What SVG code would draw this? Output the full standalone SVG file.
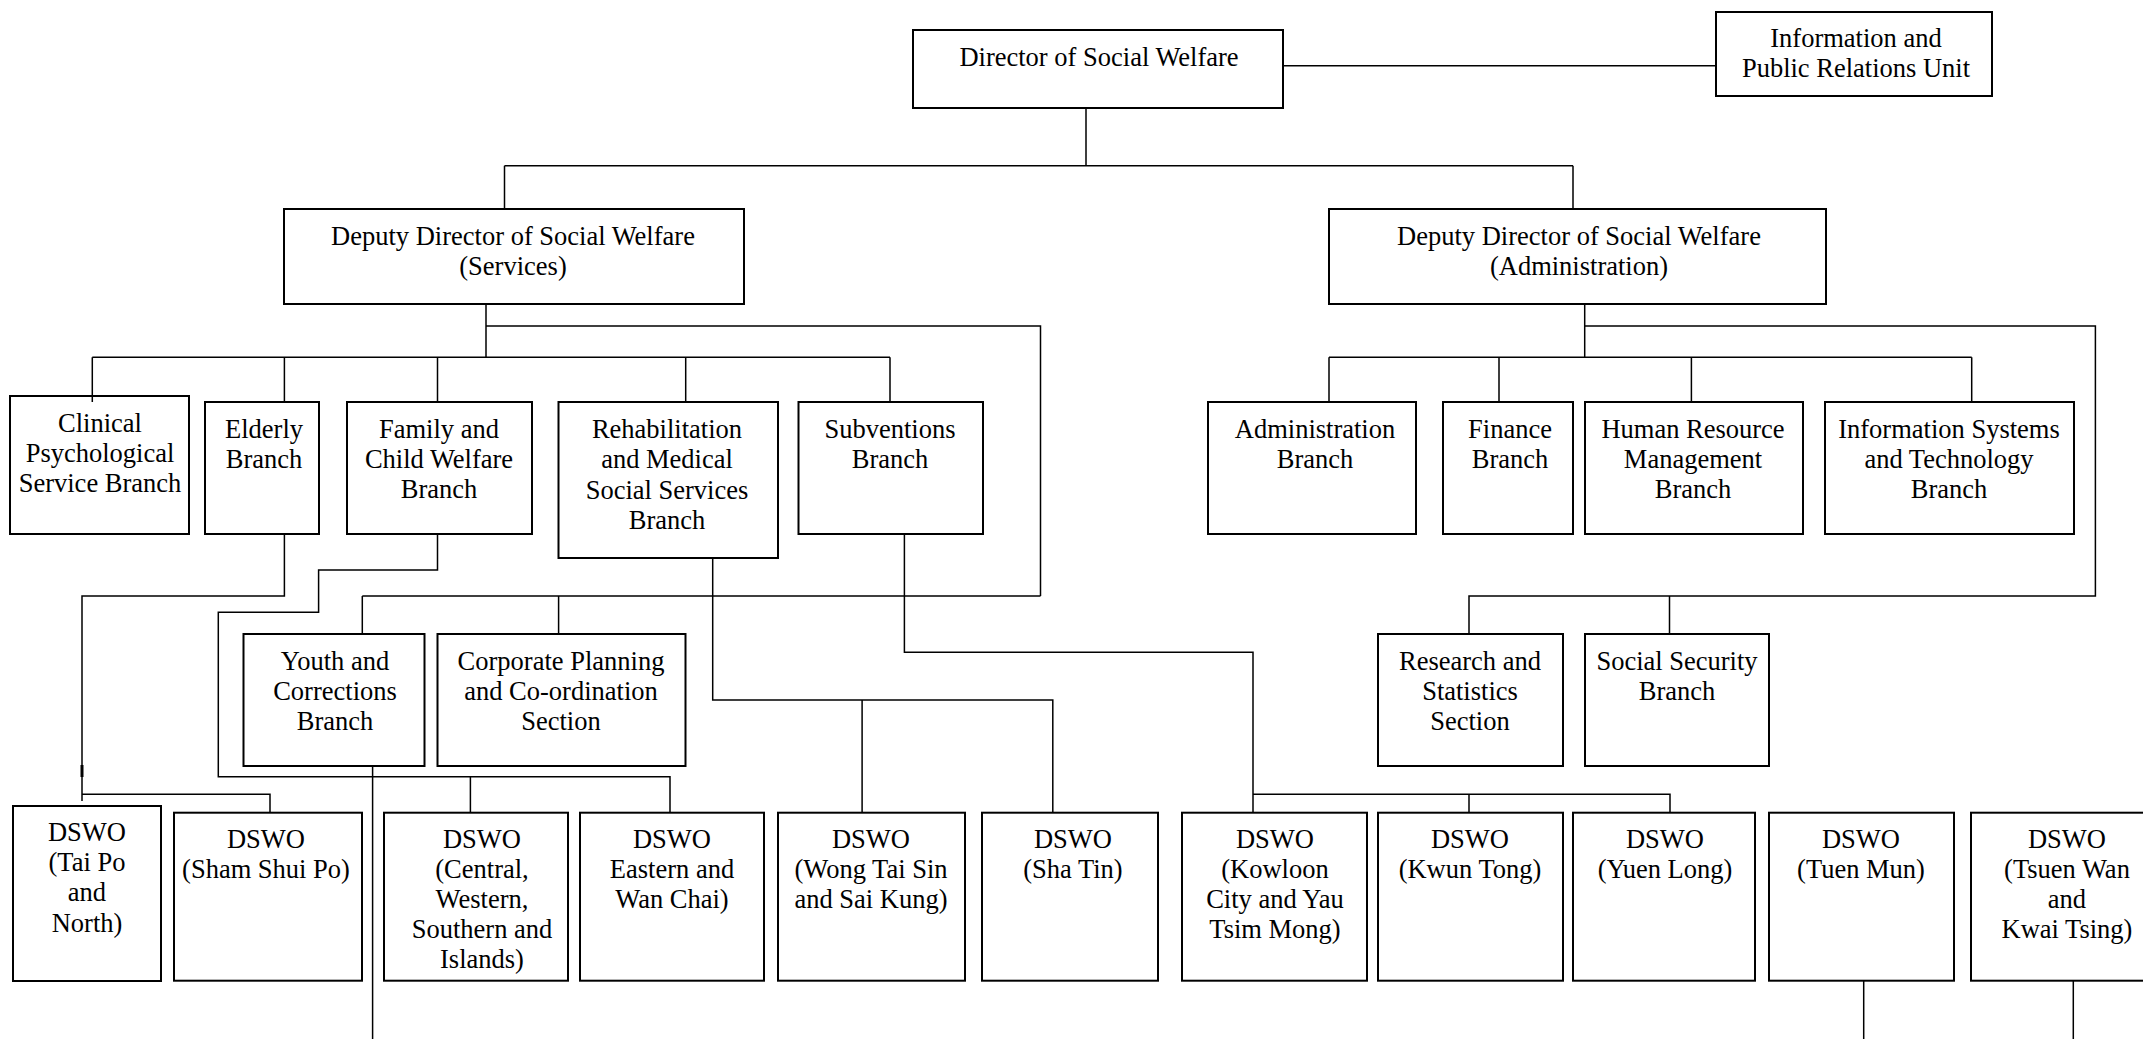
<svg xmlns="http://www.w3.org/2000/svg" width="2143" height="1039" viewBox="0 0 2143 1039">
<style>
.box{fill:#fff;stroke:#000;stroke-width:2}
.c{fill:none;stroke:#000;stroke-width:1.5}
text{font-family:"Liberation Serif","Times New Roman",serif;font-size:26.5px;fill:#000;text-anchor:middle}
</style>
<rect width="2143" height="1039" fill="#fff"/>
<g id="director"><rect class="box" x="913" y="30" width="370" height="78"/><text x="1099" y="66">Director of Social Welfare</text></g>
<g id="info"><rect class="box" x="1716" y="12" width="276" height="84"/><text x="1856" y="47">Information and</text><text x="1856" y="77">Public Relations Unit</text></g>
<g id="dd-services"><rect class="box" x="284" y="209" width="460" height="95"/><text x="513" y="245">Deputy Director of Social Welfare</text><text x="513" y="275">(Services)</text></g>
<g id="dd-admin"><rect class="box" x="1329" y="209" width="497" height="95"/><text x="1579" y="245">Deputy Director of Social Welfare</text><text x="1579" y="275">(Administration)</text></g>
<g id="clinical"><rect class="box" x="10" y="396" width="179" height="138"/><text x="100" y="432">Clinical</text><text x="100" y="462">Psychological</text><text x="100" y="492">Service Branch</text></g>
<g id="elderly"><rect class="box" x="205" y="402" width="114" height="132"/><text x="264" y="438">Elderly</text><text x="264" y="468">Branch</text></g>
<g id="family"><rect class="box" x="347" y="402" width="185" height="132"/><text x="439" y="438">Family and</text><text x="439" y="468">Child Welfare</text><text x="439" y="498">Branch</text></g>
<g id="rehab"><rect class="box" x="558.5" y="402" width="219.5" height="156"/><text x="667" y="438">Rehabilitation</text><text x="667" y="468">and Medical</text><text x="667" y="499">Social Services</text><text x="667" y="529">Branch</text></g>
<g id="subventions"><rect class="box" x="798.5" y="402" width="184.5" height="132"/><text x="890" y="438">Subventions</text><text x="890" y="468">Branch</text></g>
<g id="admin-branch"><rect class="box" x="1208" y="402" width="208" height="132"/><text x="1315" y="438">Administration</text><text x="1315" y="468">Branch</text></g>
<g id="finance"><rect class="box" x="1443" y="402" width="130" height="132"/><text x="1510" y="438">Finance</text><text x="1510" y="468">Branch</text></g>
<g id="hr"><rect class="box" x="1585" y="402" width="218" height="132"/><text x="1693" y="438">Human Resource</text><text x="1693" y="468">Management</text><text x="1693" y="498">Branch</text></g>
<g id="ist"><rect class="box" x="1825" y="402" width="249" height="132"/><text x="1949" y="438">Information Systems</text><text x="1949" y="468">and Technology</text><text x="1949" y="498">Branch</text></g>
<g id="youth"><rect class="box" x="243.5" y="634" width="181" height="132"/><text x="335" y="670">Youth and</text><text x="335" y="700">Corrections</text><text x="335" y="730">Branch</text></g>
<g id="corporate"><rect class="box" x="437.5" y="634" width="248" height="132"/><text x="561" y="670">Corporate Planning</text><text x="561" y="700">and Co-ordination</text><text x="561" y="730">Section</text></g>
<g id="research"><rect class="box" x="1378" y="634" width="185" height="132"/><text x="1470" y="670">Research and</text><text x="1470" y="700">Statistics</text><text x="1470" y="730">Section</text></g>
<g id="social-security"><rect class="box" x="1585" y="634" width="184" height="132"/><text x="1677" y="670">Social Security</text><text x="1677" y="700">Branch</text></g>
<g id="dswo-taipo"><rect class="box" x="13" y="806" width="148" height="175"/><text x="87" y="841">DSWO</text><text x="87" y="871">(Tai Po</text><text x="87" y="901">and</text><text x="87" y="932">North)</text></g>
<g id="dswo-ssp"><rect class="box" x="174" y="812.7" width="188" height="168"/><text x="266" y="848">DSWO</text><text x="266" y="878">(Sham Shui Po)</text></g>
<g id="dswo-central"><rect class="box" x="384" y="812.7" width="184" height="168"/><text x="482" y="848">DSWO</text><text x="482" y="878">(Central,</text><text x="482" y="908">Western,</text><text x="482" y="938">Southern and</text><text x="482" y="968">Islands)</text></g>
<g id="dswo-eastern"><rect class="box" x="580" y="812.7" width="184" height="168"/><text x="672" y="848">DSWO</text><text x="672" y="878">Eastern and</text><text x="672" y="908">Wan Chai)</text></g>
<g id="dswo-wts"><rect class="box" x="778" y="812.7" width="187" height="168"/><text x="871" y="848">DSWO</text><text x="871" y="878">(Wong Tai Sin</text><text x="871" y="908">and Sai Kung)</text></g>
<g id="dswo-shatin"><rect class="box" x="982" y="812.7" width="176" height="168"/><text x="1073" y="848">DSWO</text><text x="1073" y="878">(Sha Tin)</text></g>
<g id="dswo-kc"><rect class="box" x="1182" y="812.7" width="185" height="168"/><text x="1275" y="848">DSWO</text><text x="1275" y="878">(Kowloon</text><text x="1275" y="908">City and Yau</text><text x="1275" y="938">Tsim Mong)</text></g>
<g id="dswo-kt"><rect class="box" x="1378" y="812.7" width="185" height="168"/><text x="1470" y="848">DSWO</text><text x="1470" y="878">(Kwun Tong)</text></g>
<g id="dswo-yl"><rect class="box" x="1573" y="812.7" width="182" height="168"/><text x="1665" y="848">DSWO</text><text x="1665" y="878">(Yuen Long)</text></g>
<g id="dswo-tm"><rect class="box" x="1769" y="812.7" width="185" height="168"/><text x="1861" y="848">DSWO</text><text x="1861" y="878">(Tuen Mun)</text></g>
<g id="dswo-tw"><rect class="box" x="1971" y="812.7" width="192" height="168"/><text x="2067" y="848">DSWO</text><text x="2067" y="878">(Tsuen Wan</text><text x="2067" y="908">and</text><text x="2067" y="938">Kwai Tsing)</text></g>
<g id="connectors" class="c">
<path d="M1283,65.7H1716"/>
<path d="M1086,108V165.7M504.5,165.7H1573M504.5,165.7V209M1573,165.7V209"/>
<path d="M486,304V357.3M486,326H1040.5V596M92.3,357.3H890M92.3,357.3V402M284.4,357.3V402M437.5,357.3V402M685.7,357.3V402M890,357.3V402"/>
<path d="M362.3,596H1040.5M362.3,596V634M558.6,596V634"/>
<path d="M284.4,534V596H82V801M82,794.3H270V812.7"/>
<path d="M82,765V777" style="stroke-width:3"/>
<path d="M437.5,534V570H318.6V612.3H218.3V776.7H670V812.7M470.4,776.7V812.7"/>
<path d="M712.7,558V700H1052.8V812.7M862.1,700V812.7"/>
<path d="M904.4,534V652.3H1253V812.7M1253,794.3H1670V812.7M1469,794.3V812.7"/>
<path d="M372.6,766V1039"/>
<path d="M1584.7,304V357.3M1584.7,326H2095.4V596H1469V634M1669.5,596V634M1329,357.3H1971.7M1329,357.3V402M1499,357.3V402M1691.4,357.3V402M1971.7,357.3V402"/>
<path d="M1863.7,980.7V1039M2073.3,980V1039"/>
</g>
</svg>
